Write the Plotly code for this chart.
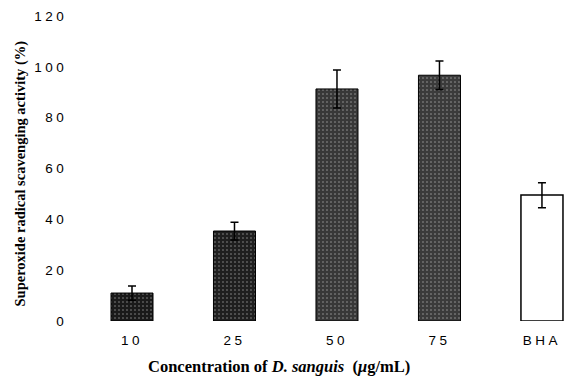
import plotly.graph_objects as go

categories = ["10", "25", "50", "75", "BHA"]
activity = [11.0, 35.4, 91.3, 96.7, 49.6]
err_plus = [2.8, 3.5, 7.5, 5.6, 4.8]
err_minus = [2.8, 3.5, 7.5, 5.6, 5.0]
bar_colors = ["#1a1a1a", "#1f1f1f", "#383838", "#3b3b3b", "#ffffff"]
y_ticks = [0, 20, 40, 60, 80, 100, 120]

x_pos = list(range(len(categories)))

W, H = 564, 387
L, R, T, B = 81, 0, 16, 66
PW, PH = W - L - R, H - T - B

fig = go.Figure()
fig.add_trace(go.Bar(
    x=x_pos,
    y=activity,
    width=0.41,
    marker=dict(
        color=bar_colors,
        line=dict(color="#000000", width=[1, 1, 1, 1, 1.5]),
        pattern=dict(shape=["."] * 4 + [""], fgcolor="#8a8a8a", size=4, solidity=0.12),
    ),
    error_y=dict(type="data", symmetric=False, array=err_plus, arrayminus=err_minus,
                 color="#000000", thickness=1.5, width=4),
    showlegend=False,
))

fig.update_layout(
    width=W, height=H,
    margin=dict(l=L, r=R, t=T, b=B, autoexpand=False),
    paper_bgcolor="white", plot_bgcolor="white",
    font=dict(family="Liberation Sans, Arial, sans-serif", size=13.5, color="#000"),
    xaxis=dict(
        range=[-0.4976, 4.215],
        tickmode="array", tickvals=x_pos, ticktext=categories,
        showgrid=False, zeroline=False, showline=False,
        ticks="outside", ticklen=7, tickcolor="rgba(0,0,0,0)",
        tickfont=dict(size=13.5),
        automargin=False,
    ),
    yaxis=dict(
        range=[0, 120],
        tickmode="array", tickvals=y_ticks,
        showgrid=False, zeroline=False, showline=False,
        ticks="outside", ticklen=10, tickcolor="rgba(0,0,0,0)",
        tickfont=dict(size=13.5),
        automargin=False,
    ),
    annotations=[
        dict(text="Superoxide radical scavenging activity (%)", textangle=-90,
             xref="paper", yref="paper", x=(20 - L) / PW, y=0.5 - 5 / PH,
             xanchor="center", yanchor="middle", showarrow=False,
             font=dict(family="Liberation Serif, Times New Roman, serif", size=14.5, color="#000", weight="bold")),
        dict(text="Concentration of <i>D. sanguis</i>  (<i>μ</i>g/mL)",
             xref="paper", yref="paper", x=(279 - L) / PW, y=-(367 - (T + PH)) / PH,
             xanchor="center", yanchor="middle", showarrow=False,
             font=dict(family="Liberation Serif, Times New Roman, serif", size=16.5, color="#000", weight="bold")),
    ],
)

css_js = (
    "var s=document.createElement('style');"
    "s.textContent='html,body{margin:0;padding:0;} .xtick text,.ytick text{letter-spacing:3.5px;}';"
    "document.head.appendChild(s);"
)

fig.write_html("out.html", post_script=css_js, config={"displayModeBar": False})
